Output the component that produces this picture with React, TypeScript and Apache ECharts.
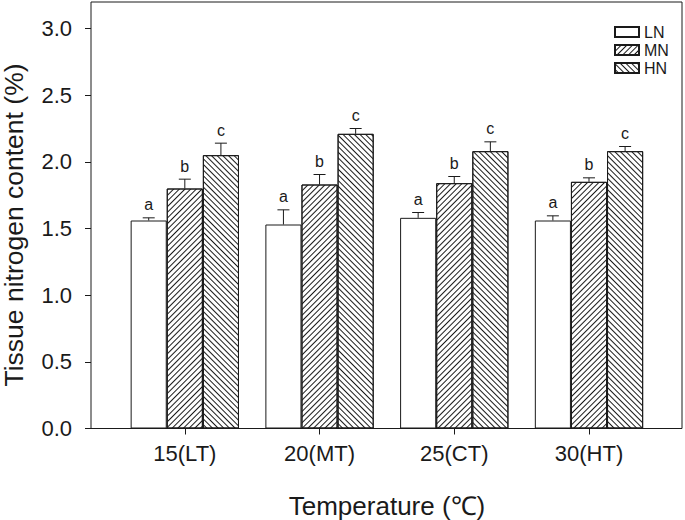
import React, { useEffect, useRef } from 'react';
import * as echarts from 'echarts';

const categories = ['15(LT)', '20(MT)', '25(CT)', '30(HT)'];
const seriesNames = ['LN', 'MN', 'HN'];
const lnValues = [1.56, 1.53, 1.58, 1.56];
const mnValues = [1.80, 1.83, 1.84, 1.85];
const hnValues = [2.05, 2.21, 2.08, 2.08];
const lnErrors = [0.02, 0.11, 0.04, 0.035];
const mnErrors = [0.07, 0.075, 0.05, 0.03];
const hnErrors = [0.09, 0.04, 0.07, 0.035];
const lnLetters = ['a', 'a', 'a', 'a'];
const mnLetters = ['b', 'b', 'b', 'b'];
const hnLetters = ['c', 'c', 'c', 'c'];
const yMin = 0;
const yMax = 3;
const yInterval = 0.5;
const xTitle = 'Temperature (℃)';
const yTitle = 'Tissue nitrogen content (%)';

const FONT = '"Liberation Sans", Arial, Helvetica, sans-serif';
const INK = '#1a1a1a';
const BAR_FRAC = 0.268;

const values = [lnValues, mnValues, hnValues];
const errors = [lnErrors, mnErrors, hnErrors];
const letters = [lnLetters, mnLetters, hnLetters];

const decals: any[] = [
  null,
  { symbol: 'rect', symbolSize: 1, dashArrayX: [1, 0], dashArrayY: [1, 2.1], rotation: -Math.PI / 4, color: INK },
  { symbol: 'rect', symbolSize: 1, dashArrayX: [1, 0], dashArrayY: [1, 2.1], rotation: Math.PI / 4, color: INK },
];

function makeErrRender(g: number) {
  return (params: any, api: any) => {
    const cat = api.value(0);
    const v = api.value(1);
    const e = api.value(2);
    const base = api.coord([cat, v]);
    const top = api.coord([cat, v + e]);
    const bandW = api.size([1, 0])[0];
    const bw = bandW * BAR_FRAC;
    const x = base[0] + (g - 1) * bw;
    const half = 6;
    return {
      type: 'group',
      children: [
        { type: 'line', shape: { x1: x, y1: base[1], x2: x, y2: top[1] }, style: { stroke: INK, lineWidth: 1 } },
        { type: 'line', shape: { x1: x - half, y1: top[1], x2: x + half, y2: top[1] }, style: { stroke: INK, lineWidth: 1 } },
        {
          type: 'text',
          style: {
            text: letters[g][params.dataIndex],
            x: x,
            y: top[1] - 5,
            align: 'center',
            verticalAlign: 'bottom',
            fontSize: 16,
            fontFamily: FONT,
            fill: INK,
          },
        },
      ],
    };
  };
}

export default function App() {
  const ref = useRef<HTMLDivElement>(null);
  useEffect(() => {
    if (!ref.current) return;
    const chart = echarts.init(ref.current, null, { renderer: 'svg' });
    const barSeries = seriesNames.map((name, g) => ({
      name,
      type: 'bar',
      xAxisIndex: 0,
      yAxisIndex: 0,
      data: values[g],
      barWidth: (BAR_FRAC * 100).toFixed(2) + '%',
      barGap: '0%',
      itemStyle: {
        color: '#ffffff',
        borderColor: INK,
        borderWidth: 1,
        ...(decals[g] ? { decal: decals[g] } : {}),
      },
      emphasis: { disabled: true },
      z: 2,
    }));
    const errSeries = seriesNames.map((name, g) => ({
      name: name + '_err',
      type: 'custom',
      xAxisIndex: 0,
      yAxisIndex: 0,
      renderItem: makeErrRender(g),
      data: values[g].map((v, i) => [i, v, errors[g][i]]),
      encode: { x: 0, y: 1 },
      z: 3,
      silent: true,
    }));
    chart.setOption({
      animation: false,
      textStyle: { fontFamily: FONT },
      grid: [
        { left: 117.45, right: 28.65, top: 28.5, bottom: 91.5 },
        { left: 91, right: 3, top: 2, bottom: 91.5, show: true, borderColor: INK, borderWidth: 1, backgroundColor: 'transparent' },
      ],
      xAxis: [
        {
          type: 'category',
          gridIndex: 0,
          data: categories,
          boundaryGap: true,
          axisLine: { show: false },
          axisTick: { show: true, alignWithLabel: true, length: 6, lineStyle: { color: INK, width: 1 } },
          axisLabel: { fontSize: 22, color: INK, margin: 14, fontFamily: FONT },
          splitLine: { show: false },
        },
        { type: 'value', gridIndex: 1, show: false },
      ],
      yAxis: [
        {
          type: 'value',
          gridIndex: 0,
          min: yMin,
          max: yMax,
          interval: yInterval,
          offset: 26.45,
          axisLine: { show: false },
          axisTick: { show: true, length: 6, lineStyle: { color: INK, width: 1 } },
          axisLabel: { fontSize: 22, color: INK, margin: 19, fontFamily: FONT, formatter: (v: number) => v.toFixed(1) },
          splitLine: { show: false },
        },
        { type: 'value', gridIndex: 1, show: false },
      ],
      legend: {
        data: seriesNames,
        orient: 'vertical',
        left: 609,
        top: 19,
        itemWidth: 24,
        itemHeight: 10,
        itemGap: 2,
        icon: 'rect',
        textStyle: { fontSize: 16, color: INK, fontFamily: FONT },
        selectedMode: false,
      },
      graphic: [
        {
          type: 'text',
          x: 387,
          y: 506,
          style: { text: xTitle, fontSize: 26, fontFamily: FONT, fill: INK, align: 'center', verticalAlign: 'middle' },
        },
        {
          type: 'text',
          x: 14,
          y: 225,
          rotation: Math.PI / 2,
          style: { text: yTitle, fontSize: 26.5, fontFamily: FONT, fill: INK, align: 'center', verticalAlign: 'middle' },
        },
      ],
      series: [...barSeries, ...errSeries],
    });
    return () => chart.dispose();
  }, []);
  return <div ref={ref} style={{ position: 'fixed', left: 0, top: 0, width: 685, height: 520, background: '#fff' }} />;
}
